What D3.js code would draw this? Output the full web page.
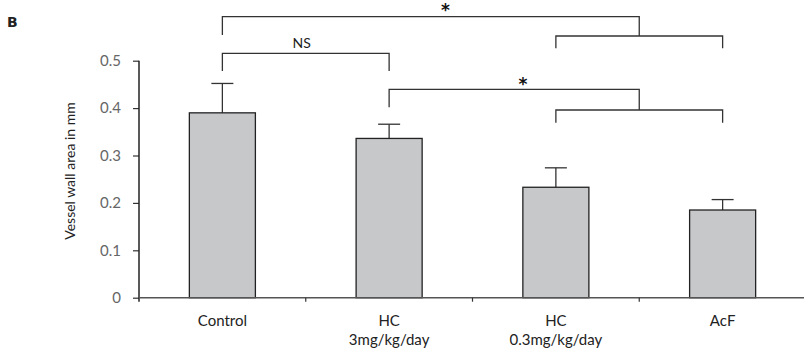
<!DOCTYPE html>
<html>
<head>
<meta charset="utf-8">
<script src="https://cdn.jsdelivr.net/npm/d3@7"></script>
<style>
  body { margin: 0; background: #fff; }
  text { font-family: Lato, "Noto Sans", sans-serif; }
</style>
</head>
<body>
<div id="chartArea"></div>
<script>
const width = 804;
const height = 354;

// data
const categories = ["Control", "HC 3", "HC 0.3", "AcF"];
const labelLines = [["Control"], ["HC", "3mg/kg/day"], ["HC", "0.3mg/kg/day"], ["AcF"]];
const means = [0.390, 0.336, 0.233, 0.185];
const errors = [0.062, 0.030, 0.041, 0.022];
const yTicks = [0, 0.1, 0.2, 0.3, 0.4, 0.5];

const svg = d3.select("#chartArea")
    .append("svg")
    .attr("width", width)
    .attr("height", height);

const x = d3.scaleBand()
    .domain(categories)
    .range([139, 806])
    .padding(0);

const y = d3.scaleLinear()
    .domain([0, 0.5])
    .range([297.7, 60.7]);

const bw = x.bandwidth();
const barW = bw * 0.396;
const cx = c => x(c) + bw / 2;

// panel letter
svg.append("text")
    .attr("x", 7)
    .attr("y", 27)
    .style("font-family", "'DejaVu Sans', sans-serif")
    .style("font-weight", "bold")
    .style("font-size", "14px")
    .attr("fill", "#222")
    .text("B");

// bars
const data = categories.map((c, i) => ({ cat: c, mean: means[i], err: errors[i] }));

const bars = svg.append("g");
bars.selectAll("line.err")
    .data(data)
    .enter().append("line")
    .attr("class", "err")
    .attr("x1", d => cx(d.cat))
    .attr("x2", d => cx(d.cat))
    .attr("y1", d => y(d.mean))
    .attr("y2", d => y(d.mean + d.err))
    .attr("stroke", "#333")
    .attr("stroke-width", 1.3);

bars.selectAll("line.cap")
    .data(data)
    .enter().append("line")
    .attr("class", "cap")
    .attr("x1", d => cx(d.cat) - 11)
    .attr("x2", d => cx(d.cat) + 11)
    .attr("y1", d => y(d.mean + d.err))
    .attr("y2", d => y(d.mean + d.err))
    .attr("stroke", "#333")
    .attr("stroke-width", 1.3);

bars.selectAll("rect")
    .data(data)
    .enter().append("rect")
    .attr("x", d => cx(d.cat) - barW / 2)
    .attr("y", d => y(d.mean))
    .attr("width", barW)
    .attr("height", d => y(0) - y(d.mean))
    .attr("fill", "#c7c8ca")
    .attr("stroke", "#222")
    .attr("stroke-width", 1.3);

// y axis
const yAxis = svg.append("g")
    .attr("transform", `translate(139,0)`)
    .call(d3.axisLeft(y)
        .tickValues(yTicks)
        .tickSize(6)
        .tickPadding(12)
        .tickFormat(d => d === 0 ? "0" : d.toFixed(1)));
yAxis.select(".domain").remove();
yAxis.append("line")
    .attr("x1", 0).attr("x2", 0)
    .attr("y1", y(0.5)).attr("y2", y(0) + 4)
    .attr("stroke", "#222")
    .attr("stroke-width", 1.5);
yAxis.selectAll(".tick line").attr("stroke", "#333").attr("stroke-width", 1.2);
yAxis.selectAll(".tick text")
    .attr("fill", "#666")
    .style("font-size", "15px")
    .style("font-family", "Lato, sans-serif");

svg.append("text")
    .attr("transform", `translate(75,171) rotate(-90)`)
    .attr("text-anchor", "middle")
    .attr("fill", "#222")
    .style("font-size", "14px")
    .text("Vessel wall area in mm");

// x axis
svg.append("line")
    .attr("x1", 139).attr("x2", width)
    .attr("y1", y(0)).attr("y2", y(0))
    .attr("stroke", "#555")
    .attr("stroke-width", 1.6);

svg.append("g").selectAll("line")
    .data(categories.slice(1))
    .enter().append("line")
    .attr("x1", d => x(d)).attr("x2", d => x(d))
    .attr("y1", y(0)).attr("y2", y(0) + 4)
    .attr("stroke", "#333")
    .attr("stroke-width", 1.2);

const catLabels = svg.append("g").selectAll("text")
    .data(categories)
    .enter().append("text")
    .attr("x", d => cx(d))
    .attr("y", 326)
    .attr("text-anchor", "middle")
    .attr("fill", "#222")
    .style("font-size", "15px");
catLabels.selectAll("tspan")
    .data((d, i) => labelLines[i])
    .enter().append("tspan")
    .attr("x", function() { return d3.select(this.parentNode).attr("x"); })
    .attr("dy", (d, i) => i === 0 ? 0 : 19)
    .text(d => d);

// significance brackets
const brk = svg.append("g")
    .attr("fill", "none")
    .attr("stroke", "#333")
    .attr("stroke-width", 1.3);

function groupBracket(left, r1, r2, yTop, yLeftEnd, ySub, ySubEnd) {
    const x0 = cx(left), x1 = cx(r1), x2 = cx(r2);
    const mid = (x1 + x2) / 2;
    brk.append("path")
        .attr("d", `M${x0},${yLeftEnd}V${yTop}H${mid}V${ySub}`);
    brk.append("path")
        .attr("d", `M${x1},${ySubEnd}V${ySub}H${x2}V${ySubEnd}`);
    return x0 + 0.535 * (mid - x0);
}

function star(xPos, yPos) {
    svg.append("text")
        .attr("x", xPos)
        .attr("y", yPos)
        .attr("text-anchor", "middle")
        .attr("fill", "#111")
        .style("font-family", "'DejaVu Sans', sans-serif")
        .style("font-weight", "bold")
        .style("font-size", "17px")
        .text("*");
}

star(groupBracket("Control", "HC 0.3", "AcF", 16.7, 35, 36, 48.3), 16);
star(groupBracket("HC 3", "HC 0.3", "AcF", 89.3, 107.3, 110, 122.7), 90);

// NS bracket
brk.append("path")
    .attr("d", `M${cx("Control")},71V53.3H${cx("HC 3")}V71`);
svg.append("text")
    .attr("x", (cx("Control") + cx("HC 3")) / 2 - 4)
    .attr("y", 47.5)
    .attr("text-anchor", "middle")
    .attr("fill", "#222")
    .style("font-size", "14px")
    .text("NS");
</script>
</body>
</html>
